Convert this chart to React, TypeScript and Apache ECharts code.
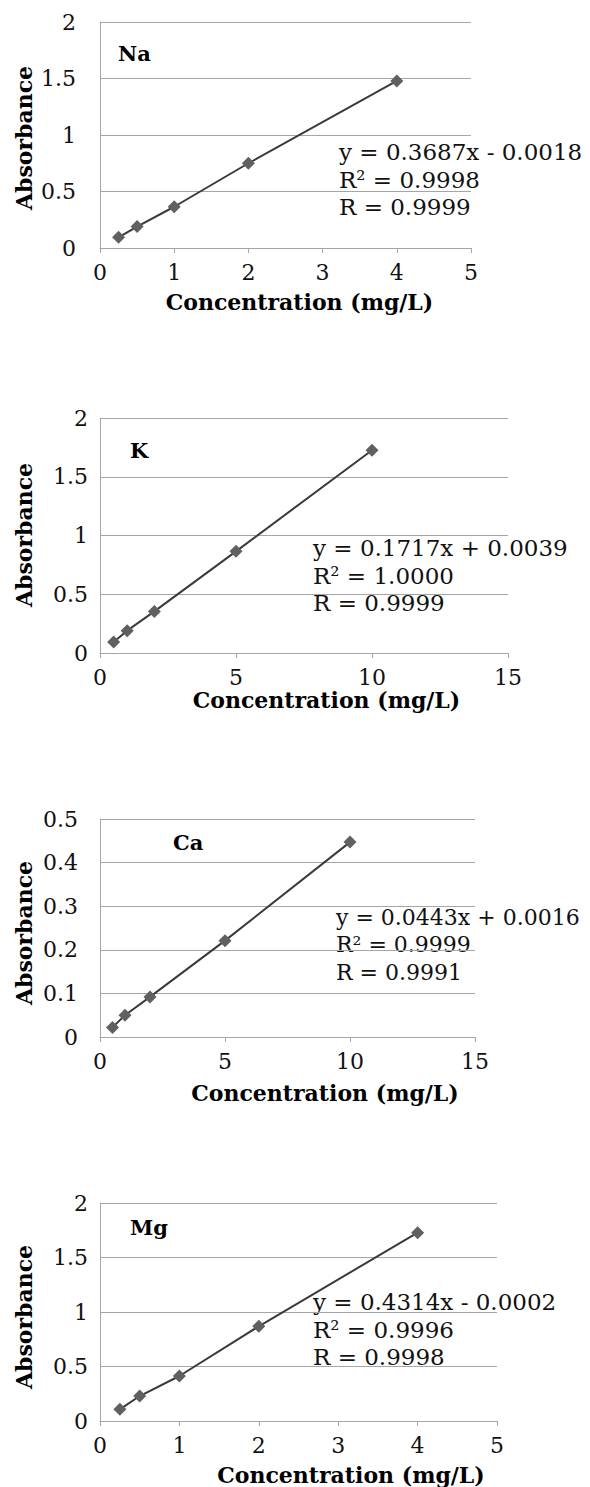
import React, { useEffect, useRef } from "react";
import * as echarts from "echarts";

// ---- Data ----
const elements = ["Na", "K", "Ca", "Mg"];

const naConc = [0.25, 0.5, 1, 2, 4];
const naAbs = [0.095, 0.19, 0.365, 0.75, 1.478];

const kConc = [0.5, 1, 2, 5, 10];
const kAbs = [0.094, 0.19, 0.354, 0.865, 1.726];

const caConc = [0.5, 1, 2, 5, 10];
const caAbs = [0.022, 0.05, 0.092, 0.221, 0.447];

const mgConc = [0.25, 0.5, 1, 2, 4];
const mgAbs = [0.107, 0.229, 0.413, 0.869, 1.728];

const equations = [
  "y = 0.3687x - 0.0018",
  "y = 0.1717x + 0.0039",
  "y = 0.0443x + 0.0016",
  "y = 0.4314x - 0.0002",
];
const r2Texts = ["R² = 0.9998", "R² = 1.0000", "R² = 0.9999", "R² = 0.9996"];
const rTexts = ["R = 0.9999", "R = 0.9999", "R = 0.9991", "R = 0.9998"];

const yMaxes = [2, 2, 0.5, 2];
const yIntervals = [0.5, 0.5, 0.1, 0.5];
const xMaxes = [5, 15, 15, 5];
const xIntervals = [1, 5, 5, 1];

const yTitle = "Absorbance";
const xTitle = "Concentration (mg/L)";

// ---- Layout (pixel positions) ----
const grids = [
  { left: 100, top: 22, width: 371, height: 226 },
  { left: 100, top: 418, width: 408, height: 235 },
  { left: 100, top: 819, width: 375, height: 218 },
  { left: 100, top: 1203, width: 397, height: 218 },
];
const yLabelMargins = [24, 12, 22, 12];
const yTitleCenters = [138, 535, 933, 1317];
const elemPos = [
  [118, 53],
  [130, 450],
  [173, 842],
  [130, 1227],
];
const xTitlePos = [
  [299.5, 302],
  [326.5, 700],
  [325, 1093],
  [351, 1475],
];
const annotPos = [
  [339, 152],
  [313, 548],
  [336, 917],
  [313, 1302],
];
const annotSizes = [23, 23, 22, 23];

const FONT = "DejaVu Serif";
const GRID_COLOR = "#a6a6a6";

export default function App() {
  const ref = useRef<HTMLDivElement>(null);

  useEffect(() => {
    if (!ref.current) return;
    const chart = echarts.init(ref.current, undefined, { renderer: "svg" });

    const concs = [naConc, kConc, caConc, mgConc];
    const abss = [naAbs, kAbs, caAbs, mgAbs];

    const graphic: any[] = [];
    elements.forEach((el, i) => {
      graphic.push({
        type: "text",
        x: 24,
        y: yTitleCenters[i],
        rotation: Math.PI / 2,
        style: {
          text: yTitle,
          fontFamily: FONT,
          fontWeight: "bold",
          fontSize: 22,
          fill: "#000",
          align: "center",
          verticalAlign: "middle",
        },
      });
      graphic.push({
        type: "text",
        x: xTitlePos[i][0],
        y: xTitlePos[i][1],
        style: {
          text: xTitle,
          fontFamily: FONT,
          fontWeight: "bold",
          fontSize: 22,
          fill: "#000",
          align: "center",
          verticalAlign: "middle",
        },
      });
      graphic.push({
        type: "text",
        x: elemPos[i][0],
        y: elemPos[i][1],
        style: {
          text: el,
          fontFamily: FONT,
          fontWeight: "bold",
          fontSize: 21,
          fill: "#000",
          align: "left",
          verticalAlign: "middle",
        },
      });
      [equations[i], r2Texts[i], rTexts[i]].forEach((t, j) => {
        graphic.push({
          type: "text",
          x: annotPos[i][0],
          y: annotPos[i][1] + j * 27.5,
          style: {
            text: t,
            fontFamily: FONT,
            fontSize: annotSizes[i],
            fill: "#111",
            align: "left",
            verticalAlign: "middle",
          },
        });
      });
    });

    const option: any = {
      animation: false,
      backgroundColor: "#ffffff",
      grid: grids.map((g) => ({ ...g, containLabel: false })),
      xAxis: grids.map((_, i) => ({
        type: "value",
        gridIndex: i,
        min: 0,
        max: xMaxes[i],
        interval: xIntervals[i],
        axisLine: { show: true, lineStyle: { color: GRID_COLOR, width: 1 } },
        axisTick: { show: true, length: 5, lineStyle: { color: GRID_COLOR } },
        splitLine: { show: false },
        axisLabel: {
          margin: 13,
          fontFamily: FONT,
          fontSize: 22,
          color: "#111",
        },
      })),
      yAxis: grids.map((_, i) => ({
        type: "value",
        gridIndex: i,
        min: 0,
        max: yMaxes[i],
        interval: yIntervals[i],
        axisLine: { show: true, lineStyle: { color: GRID_COLOR, width: 1 } },
        axisTick: { show: false },
        splitLine: { show: true, lineStyle: { color: GRID_COLOR, width: 1 } },
        axisLabel: {
          margin: yLabelMargins[i],
          fontFamily: FONT,
          fontSize: 22,
          color: "#111",
        },
      })),
      series: elements.map((el, i) => ({
        name: el,
        type: "line",
        xAxisIndex: i,
        yAxisIndex: i,
        data: concs[i].map((c, k) => [c, abss[i][k]]),
        symbol: "diamond",
        symbolSize: 13,
        itemStyle: { color: "#606060" },
        lineStyle: { color: "#3a3a3a", width: 2 },
        z: 3,
      })),
      graphic,
    };

    chart.setOption(option);
    return () => chart.dispose();
  }, []);

  return (
    <div
      ref={ref}
      style={{ position: "absolute", left: 0, top: 0, width: 590, height: 1487 }}
    />
  );
}
